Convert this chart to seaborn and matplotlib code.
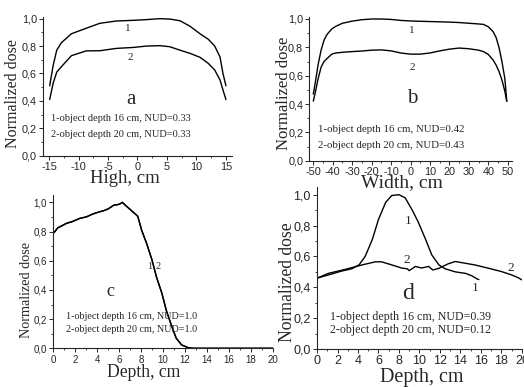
import numpy as np
import pandas as pd
import seaborn as sns
import matplotlib.pyplot as plt
from matplotlib.ticker import MultipleLocator, FuncFormatter

# panel a: dose vs high
a_x = [-14.9, -14.3, -13.7, -12.9, -11.2, -8.7, -6.4, -3.6, -0.7, 1.5, 3.8, 5.5, 7.2, 8.9, 10.6, 12.0, 13.1, 14.0, 14.5, 15.0]
a_1 = [0.51, 0.66, 0.77, 0.825, 0.89, 0.93, 0.966, 0.983, 0.988, 0.993, 1.0, 0.997, 0.985, 0.945, 0.89, 0.85, 0.80, 0.72, 0.60, 0.51]
a_2 = [0.41, 0.53, 0.61, 0.65, 0.73, 0.765, 0.766, 0.783, 0.79, 0.80, 0.803, 0.795, 0.77, 0.747, 0.718, 0.674, 0.625, 0.552, 0.48, 0.41]

# panel b: dose vs width
b_x = [-50, -49, -47.5, -46, -44.5, -43, -40.5, -38.5, -35, -30, -25, -20, -15, -10, -5, 0, 5, 10, 15, 20, 25, 30, 35, 37.5, 40, 42.5, 44, 45.5, 47, 48.5, 49.5]
b_1 = [0.47, 0.55, 0.68, 0.78, 0.85, 0.89, 0.93, 0.948, 0.97, 0.985, 0.995, 1.0, 1.0, 0.997, 0.99, 0.986, 0.984, 0.982, 0.98, 0.978, 0.975, 0.97, 0.965, 0.962, 0.945, 0.91, 0.87, 0.80, 0.70, 0.58, 0.42]
b_2 = [0.42, 0.48, 0.58, 0.66, 0.70, 0.72, 0.752, 0.76, 0.765, 0.77, 0.774, 0.78, 0.782, 0.775, 0.76, 0.752, 0.752, 0.76, 0.775, 0.787, 0.795, 0.79, 0.78, 0.77, 0.75, 0.71, 0.675, 0.63, 0.57, 0.49, 0.42]

# panel c: depth dose, objects 1 and 2 coincide
c_x = [0, 0.15, 0.4, 0.8, 1.2, 1.8, 2.4, 3.0, 3.6, 4.2, 4.6, 5.0, 5.5, 5.9, 6.1, 6.3, 6.5, 6.8, 7.1, 7.4, 7.7, 8.05, 8.5, 9.0, 9.4, 9.9, 10.3, 10.8, 11.2, 11.7, 12.3, 12.8, 14, 16, 18, 20]
c_1 = [0.79, 0.80, 0.825, 0.84, 0.856, 0.87, 0.89, 0.90, 0.92, 0.935, 0.943, 0.955, 0.98, 0.985, 0.99, 1.0, 0.985, 0.965, 0.945, 0.925, 0.905, 0.81, 0.72, 0.605, 0.49, 0.377, 0.26, 0.15, 0.07, 0.023, 0.004, 0.0, 0.0, 0.0, 0.0, 0.0]
c_2 = c_1

# panel d: depth dose
d1_x = [0, 1.1, 2.4, 3.4, 4.1, 4.7, 5.4, 6.0, 6.7, 7.3, 8.0, 8.6, 9.3, 9.9, 10.6, 11.2, 11.9, 12.5, 13.5, 14.5, 15.1, 15.6, 15.8]
d1_y = [0.459, 0.48, 0.505, 0.52, 0.545, 0.60, 0.71, 0.84, 0.95, 0.995, 1.0, 0.98, 0.90, 0.82, 0.71, 0.61, 0.545, 0.52, 0.50, 0.49, 0.475, 0.455, 0.45]
d2_x = [0, 1.1, 2.8, 4.4, 5.7, 6.3, 7.3, 8.3, 8.8, 9.0, 9.6, 10.2, 10.9, 11.3, 11.9, 12.8, 13.5, 14.1, 15.4, 16.7, 18.0, 19.0, 19.7, 20]
d2_y = [0.459, 0.49, 0.517, 0.545, 0.565, 0.565, 0.545, 0.524, 0.52, 0.508, 0.535, 0.525, 0.535, 0.512, 0.523, 0.552, 0.567, 0.56, 0.545, 0.524, 0.502, 0.48, 0.46, 0.448]

sns.set_style('ticks')
plt.rcParams['font.family'] = ['Liberation Sans', 'DejaVu Sans']
plt.rcParams['axes.linewidth'] = 0.8
plt.rcParams['axes.unicode_minus'] = False
SERIF = ['Liberation Serif', 'DejaVu Serif']

comma = FuncFormatter(lambda v, p: f'{v:.1f}'.replace('.', ','))


def setup(ax, xlim, ylim, xmaj, xmin, tsize, xlabel, xsize, xpos, ysize, ypos):
    ax.set_facecolor('none')
    ax.set_xlim(*xlim)
    ax.set_ylim(*ylim)
    sns.despine(ax=ax)
    ax.xaxis.set_major_locator(MultipleLocator(xmaj))
    ax.xaxis.set_minor_locator(MultipleLocator(xmin))
    ax.yaxis.set_major_locator(MultipleLocator(0.2))
    ax.yaxis.set_minor_locator(MultipleLocator(0.1))
    ax.yaxis.set_major_formatter(comma)
    ax.tick_params(which='major', length=3, width=0.7, labelsize=tsize, pad=1.5)
    ax.tick_params(which='minor', length=1.5, width=0.6)
    ax.set_xlabel(xlabel, family=SERIF, fontsize=xsize, va='center')
    ax.set_ylabel('Normalized dose', family=SERIF, fontsize=ysize, va='center')
    ax.xaxis.set_label_coords(*xpos)
    ax.yaxis.set_label_coords(*ypos)


fig = plt.figure(figsize=(5.24, 3.87), dpi=100)

# a
ax = fig.add_axes([0.0824, 0.5977, 0.360, 0.3576])
sns.lineplot(x=a_x, y=a_1, ax=ax, color='black', lw=1, estimator=None, sort=False)
sns.lineplot(x=a_x, y=a_2, ax=ax, color='black', lw=1, estimator=None, sort=False)
setup(ax, (-16, 16), (0, 1.01), 5, 2.5, 7.8, 'High, cm', 13.5, (0.434, -0.168), 11.5, (-0.16, 0.45))
ax.text(-1.6, 0.93, '1', family=SERIF, fontsize=8, ha='center', va='center')
ax.text(-1.3, 0.72, '2', family=SERIF, fontsize=8, ha='center', va='center')
ax.text(-1.1, 0.41, 'a', family=SERIF, fontsize=15, ha='center', va='center')
ax.text(-14.7, 0.27, '1-object depth 16 cm, NUD=0.33', family=SERIF, fontsize=7.5, va='center')
ax.text(-14.7, 0.156, '2-object depth 20 cm, NUD=0.33', family=SERIF, fontsize=7.5, va='center')

# b
ax = fig.add_axes([0.5905, 0.5848, 0.3859, 0.3716])
sns.lineplot(x=b_x, y=b_1, ax=ax, color='black', lw=1, estimator=None, sort=False)
sns.lineplot(x=b_x, y=b_2, ax=ax, color='black', lw=1, estimator=None, sort=False)
setup(ax, (-52, 52), (0, 1.015), 10, 5, 7.8, 'Width, cm', 14, (0.459, -0.155), 12, (-0.125, 0.467))
ax.text(0.8, 0.92, '1', family=SERIF, fontsize=8, ha='center', va='center')
ax.text(0.8, 0.66, '2', family=SERIF, fontsize=8, ha='center', va='center')
ax.text(0.8, 0.44, 'b', family=SERIF, fontsize=15, ha='center', va='center')
ax.text(-47.6, 0.22, '1-object depth 16 cm, NUD=0.42', family=SERIF, fontsize=7.8, va='center')
ax.text(-47.6, 0.11, '2-object depth 20 cm, NUD=0.43', family=SERIF, fontsize=7.8, va='center')

# c
ax = fig.add_axes([0.1017, 0.10, 0.4187, 0.396])
sns.lineplot(x=c_x, y=c_1, ax=ax, color='black', lw=1, estimator=None, sort=False)
sns.lineplot(x=c_x, y=c_2, ax=ax, color='black', lw=1, estimator=None, sort=False)
setup(ax, (0, 20), (0, 1.05), 2, 1, 7, 'Depth, cm', 12.7, (0.41, -0.161), 10.2, (-0.121, 0.38))
ax.text(8.75, 0.56, '1', family=SERIF, fontsize=7.5, ha='center', va='center')
ax.text(9.6, 0.56, '2', family=SERIF, fontsize=7.5, ha='center', va='center')
ax.text(5.2, 0.39, 'c', family=SERIF, fontsize=13, ha='center', va='center')
ax.text(1.2, 0.217, '1-object depth 16 cm, NUD=1.0', family=SERIF, fontsize=7.3, va='center')
ax.text(1.2, 0.126, '2-object depth 20 cm, NUD=1.0', family=SERIF, fontsize=7.3, va='center')

# d
ax = fig.add_axes([0.605, 0.0982, 0.391, 0.4186])
sns.lineplot(x=d1_x, y=d1_y, ax=ax, color='black', lw=1, estimator=None, sort=False)
sns.lineplot(x=d2_x, y=d2_y, ax=ax, color='black', lw=1, estimator=None, sort=False)
setup(ax, (0, 20), (0, 1.05), 2, 1, 9, 'Depth, cm', 14.5, (0.511, -0.179), 12.7, (-0.145, 0.415))
ax.text(8.9, 0.83, '1', family=SERIF, fontsize=9.5, ha='center', va='center')
ax.text(8.8, 0.575, '2', family=SERIF, fontsize=9.5, ha='center', va='center')
ax.text(18.9, 0.525, '2', family=SERIF, fontsize=9.5, ha='center', va='center')
ax.text(15.4, 0.395, '1', family=SERIF, fontsize=9.5, ha='center', va='center')
ax.text(8.9, 0.36, 'd', family=SERIF, fontsize=17, ha='center', va='center')
ax.text(1.3, 0.21, '1-object depth 16 cm, NUD=0.39', family=SERIF, fontsize=8.6, va='center')
ax.text(1.3, 0.123, '2-object depth 20 cm, NUD=0.12', family=SERIF, fontsize=8.6, va='center')

fig.savefig('out.png', dpi=100)
